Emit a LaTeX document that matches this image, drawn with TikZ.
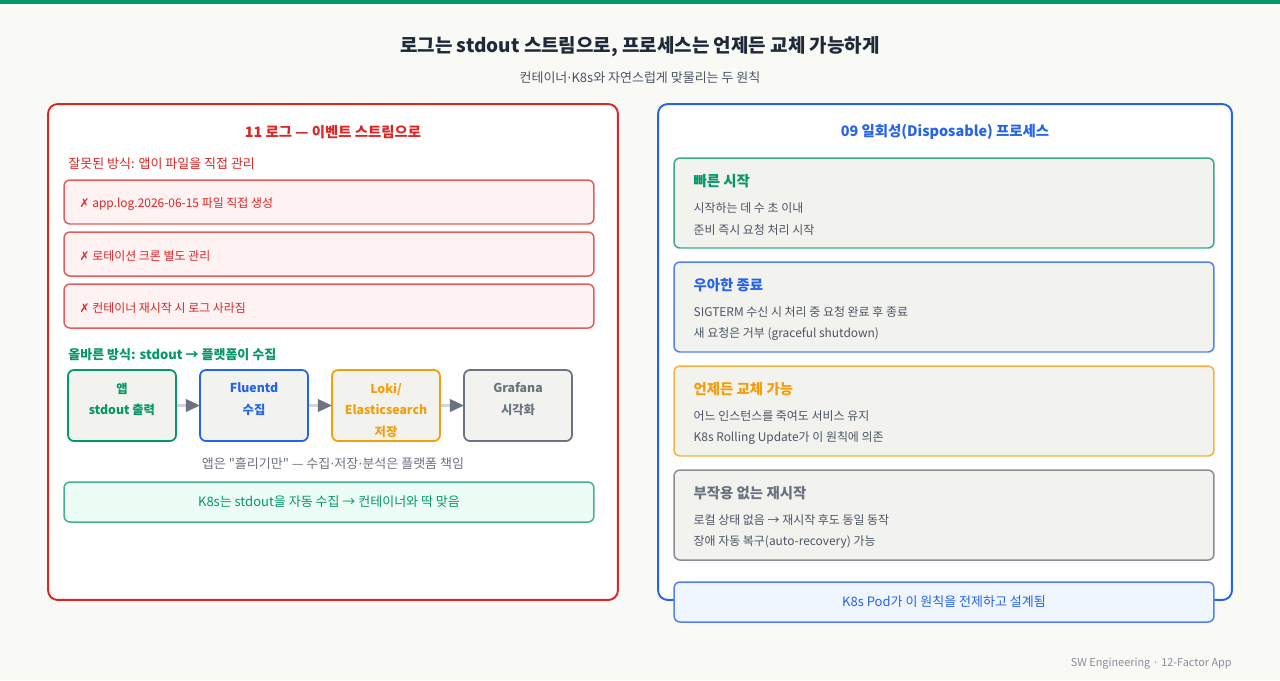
\documentclass[tikz,border=0pt]{standalone}
\usepackage{fontspec}
\setmainfont{Noto Sans CJK KR}
\newfontfamily\symfont{DejaVu Sans}
\newfontfamily\rawfont{Noto Sans CJK KR}
\usetikzlibrary{arrows.meta, positioning, calc}
\definecolor{pagebg}{HTML}{F9F9F6}
\definecolor{okgreen}{HTML}{059669}
\definecolor{okfill}{HTML}{ECFDF5}
\definecolor{logred}{HTML}{DC2626}
\definecolor{badfill}{HTML}{FEF2F2}
\definecolor{badline}{HTML}{E35D5D}
\definecolor{procblue}{HTML}{2563EB}
\definecolor{podfill}{HTML}{EFF6FF}
\definecolor{warnorange}{HTML}{F59E0B}
\definecolor{slate}{HTML}{6B7280}
\definecolor{cardfill}{HTML}{F2F2EE}
\definecolor{inktext}{HTML}{1F2937}
\definecolor{mutetext}{HTML}{4B5563}
\newcommand\middot{{\symfont\char"00B7}}
\newcommand\straightq{{\rawfont"}}
\tikzset{
  panel/.style={rectangle, rounded corners=5.5pt, line width=1.1pt, fill=white,
                inner sep=0pt, minimum height=9.92cm},
  badbox/.style={rectangle, rounded corners=3.4pt, line width=0.85pt, draw=badline,
                 fill=badfill, inner sep=0pt, minimum width=10.6cm, minimum height=0.88cm},
  flowbox/.style={rectangle, rounded corners=3.4pt, line width=1pt, fill=cardfill,
                  inner sep=0pt, minimum width=2.16cm, minimum height=1.42cm},
  flowtext/.style={anchor=north, inner sep=0pt, align=center,
                   font=\bfseries\fontsize{7}{12.2}\selectfont},
  flowarrow/.style={-{Triangle[length=8pt, width=7pt, color=slate]},
                    line width=1.5pt, draw=slate!30, shorten >=-0.5pt},
  card/.style={rectangle, rounded corners=3.4pt, line width=0.85pt, fill=cardfill,
               inner sep=0pt, minimum width=10.8cm, minimum height=1.8cm},
  notebox/.style={rectangle, rounded corners=3.4pt, line width=0.85pt,
                  inner sep=0pt, minimum height=0.8cm, font=\fontsize{7.4}{9}\selectfont},
  txt/.style={inner sep=0pt, yshift=-1.2pt},
  bodytext/.style={txt, anchor=west, font=\fontsize{6.8}{8}\selectfont},
  headtext/.style={txt, anchor=west, font=\fontsize{7.4}{9}\selectfont},
  cardtitle/.style={txt, anchor=west, font=\bfseries\fontsize{8.2}{10}\selectfont},
  paneltitle/.style={txt, font=\bfseries\fontsize{8.2}{10}\selectfont},
}

\begin{document}
\begin{tikzpicture}[x=0.02cm, y=-0.02cm]
  \useasboundingbox (0,0) rectangle (1280,680);
  \fill[pagebg] (0,0) rectangle (1280,680);
  \fill[okgreen] (0,0) rectangle (1280,4);

  % Heading
  \node[txt, text=inktext, font=\bfseries\fontsize{10.8}{13}\selectfont]
       (title) at (640,45) {로그는 stdout 스트림으로, 프로세스는 언제든 교체 가능하게};
  \node[txt, text=mutetext, font=\fontsize{7.4}{9}\selectfont]
       (subtitle) at (640,75) {컨테이너\middot K8s와 자연스럽게 맞물리는 두 원칙};

  % Left panel: logs
  \node[panel, draw=logred, minimum width=11.4cm] (logpanel) at (333,352) {};
  \node[paneltitle, text=logred] (logtitle) at (333,130) {11 로그 — 이벤트 스트림으로};
  \node[headtext, text=logred] (badhead) at (68,162) {잘못된 방식: 앱이 파일을 직접 관리};
  \foreach \i/\y/\txt in {1/202/{app.log.2026-06-15 파일 직접 생성},
                          2/254/{로테이션 크론 별도 관리},
                          3/306/{컨테이너 재시작 시 로그 사라짐}} {
    \node[badbox] (bad\i) at (329,\y) {};
    \node[bodytext, text=logred] (badtxt\i) at ($(bad\i.west)+(16,0)$) {{\symfont ✗} \txt};
  }

  \node[headtext, text=okgreen, font=\bfseries\fontsize{7.4}{9}\selectfont]
       (goodhead) at (68,353) {올바른 방식: stdout → 플랫폼이 수집};

  % Pipeline
  \node[flowbox, draw=okgreen] (app) at (122,405.5) {};
  \node[flowbox, draw=procblue] (fluentd) at (254,405.5) {};
  \node[flowbox, draw=warnorange] (loki) at (386,405.5) {};
  \node[flowbox, draw=slate] (grafana) at (518,405.5) {};
  \node[flowtext, text=okgreen] at ($(app.north)+(0,13.5)$) {앱\\stdout 출력};
  \node[flowtext, text=procblue] at ($(fluentd.north)+(0,13.5)$) {Fluentd\\수집};
  \node[flowtext, text=warnorange] at ($(loki.north)+(0,13.5)$) {Loki/\\Elasticsearch\\저장};
  \node[flowtext, text=slate] at ($(grafana.north)+(0,13.5)$) {Grafana\\시각화};
  \draw[flowarrow] (app) -- (fluentd);
  \draw[flowarrow] (fluentd) -- (loki);
  \draw[flowarrow] (loki) -- (grafana);

  \node[txt, text=slate, font=\fontsize{7.4}{9}\selectfont]
       (caption) at (333,461) {앱은 \straightq 흘리기만\straightq{} — 수집\middot 저장\middot 분석은 플랫폼 책임};
  \node[notebox, draw=okgreen!75, fill=okfill, text=okgreen, minimum width=10.6cm]
       (k8slog) at (329,502) {\raisebox{-1.2pt}{K8s는 stdout을 자동 수집 → 컨테이너와 딱 맞음}};

  % Right panel: disposability
  \node[panel, draw=procblue, minimum width=11.48cm] (procpanel) at (945,352) {};
  \node[paneltitle, text=procblue] (proctitle) at (945,130) {09 일회성(Disposable) 프로세스};
  \foreach \i/\y/\col/\ttl/\la/\lb in {
      1/203/okgreen/{빠른 시작}/{시작하는 데 수 초 이내}/{준비 즉시 요청 처리 시작},
      2/307/procblue/{우아한 종료}/{SIGTERM 수신 시 처리 중 요청 완료 후 종료}/{새 요청은 거부 (graceful shutdown)},
      3/411/warnorange/{언제든 교체 가능}/{어느 인스턴스를 죽여도 서비스 유지}/{K8s Rolling Update가 이 원칙에 의존},
      4/515/slate/{부작용 없는 재시작}/{로컬 상태 없음 → 재시작 후도 동일 동작}/{장애 자동 복구(auto-recovery) 가능}} {
    \node[card, draw=\col!80] (card\i) at (944,\y) {};
    \node[cardtitle, text=\col] (cardttl\i) at ($(card\i.north west)+(20,22)$) {\ttl};
    \node[bodytext, text=mutetext] (carda\i) at ($(card\i.north west)+(20,49)$) {\la};
    \node[bodytext, text=mutetext] (cardb\i) at ($(card\i.north west)+(20,71)$) {\lb};
  }
  \node[notebox, draw=procblue!80, fill=podfill, text=procblue, minimum width=10.8cm]
       (podnote) at (944,602) {\raisebox{-1.2pt}{K8s Pod가 이 원칙을 전제하고 설계됨}};

  % Footer
  \node[txt, anchor=east, text=slate!80, font=\fontsize{6.2}{8}\selectfont]
       (footer) at (1232,662) {SW Engineering · 12-Factor App};
\end{tikzpicture}
\end{document}
